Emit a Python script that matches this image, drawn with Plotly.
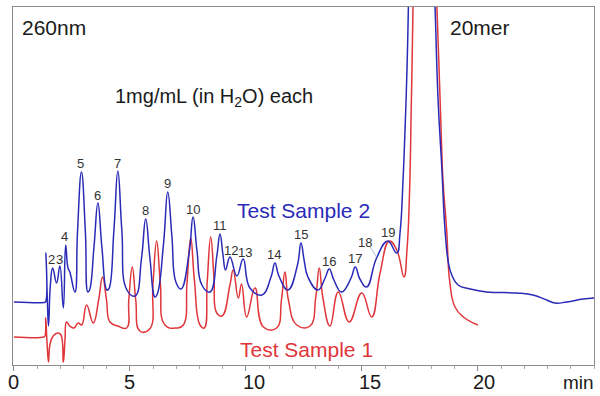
import plotly.graph_objects as go

# ---- data (time in min, signal in arbitrary mAU) ----
s2_time = [0.00, 1.29, 1.36, 1.38, 1.44, 1.49, 1.57, 1.67, 1.84, 1.98, 2.13, 2.23, 2.33, 2.41, 2.63,
           2.74, 2.91, 3.08, 3.19, 3.26,
           3.45, 3.62, 3.79, 4.01, 4.09,
           4.31, 4.48, 4.65, 4.87, 5.22,
           5.50, 5.68, 5.86, 6.08, 6.18,
           6.45, 6.63, 6.81, 6.98, 7.20,
           7.55, 7.72, 7.89, 8.10, 8.45,
           8.75, 8.88, 9.01, 9.12,
           9.31, 9.61,
           9.88, 10.17, 10.69,
           11.08, 11.25, 11.42, 11.81,
           12.22, 12.37, 12.52, 12.67, 13.10,
           13.41, 13.59, 13.79, 14.12,
           14.53, 14.71, 14.91, 15.20,
           15.63,
           16.11, 16.50,
           16.64, 16.77, 16.85, 16.94, 17.00, 17.07, 17.24, 17.54, 17.84, 18.02, 18.15,
           18.28, 18.44, 18.58, 18.72, 18.87, 19.14, 19.66, 20.37, 21.67, 22.37, 22.96,
           23.32, 23.82, 24.53, 25.00]
s2_signal = [63, 62.5, 63, 112, 65, 39, 80, 97, 82, 99, 57, 120, 97, 93, 73,
             133, 193, 133, 73, 75,
             118, 162, 118, 75, 76,
             135, 194, 135, 75, 69,
             107, 146, 107, 68, 71,
             122, 173, 128, 83, 76,
             112, 148, 114, 80, 73,
             110, 131, 110, 95,
             108, 89,
             106, 77, 70,
             88, 102, 89, 75,
             100, 122, 103, 88, 75,
             87, 96, 85, 73,
             87, 98, 86, 78,
             107,
             124, 112,
             132, 185, 232, 295, 358, 445, 765, 1265, 765, 445, 358,
             265, 198, 135, 103, 90, 80, 76, 73, 72, 70, 65,
             62, 63, 66, 67]

s1_time = [0.00, 1.29, 1.34, 1.37, 1.42, 1.49, 1.55, 1.69, 1.90, 2.03, 2.13, 2.20, 2.27, 2.41, 2.59,
           2.77, 2.92, 3.13, 3.42,
           3.65, 3.82, 3.99, 4.14, 4.48, 4.86,
           4.95, 5.10, 5.25, 5.43, 5.85,
           5.99, 6.15, 6.31, 6.51, 7.01, 7.30,
           7.46, 7.62, 7.78, 8.02, 8.20,
           8.33, 8.48, 8.62, 8.74, 8.97,
           9.31, 9.45, 9.67, 9.81, 10.03, 10.39, 10.75, 11.32,
           11.53, 11.68, 11.83, 12.19, 12.76,
           13.01, 13.16, 13.31, 13.62,
           13.98, 14.45, 14.99, 15.42, 15.78, 16.18, 16.50, 16.81,
           16.94, 17.04, 17.13, 17.20, 17.33, 17.59, 17.84, 18.06, 18.23,
           18.41, 18.49, 18.65, 18.79, 19.01, 19.37, 20.00]
s1_signal = [28, 28, 29, 47, 25, 3, 20, 29, 32, 30, 3, 25, 43, 39, 37,
             42, 40, 60, 42,
             65, 88, 65, 43, 39, 37,
             65, 98, 65, 34, 36,
             80, 124, 82, 40, 37, 40,
             82, 127, 84, 40, 37,
             83, 128, 88, 52, 49,
             80, 95, 67, 81, 48, 77, 38, 37,
             65, 93, 65, 40, 39,
             68, 97, 68, 39,
             73, 43, 72, 48, 92, 124, 115, 88,
             115, 165, 265, 358, 565, 1265, 765, 445, 358,
             235, 185, 135, 82, 58, 48, 40]

peak_labels = ["2", "3", "4", "5", "6", "7", "8", "9", "10", "11", "12", "13", "14",
               "15", "16", "17", "18", "19"]
label_time = [1.62, 1.96, 2.20, 2.89, 3.62, 4.48, 5.68, 6.63, 7.72, 8.88, 9.34, 9.96, 11.21,
              12.37, 13.59, 14.70, 15.13, 16.11]
label_signal = [106, 106, 129, 202, 170, 202, 155, 182, 156, 140, 115, 113, 111,
                131, 104, 107, 123, 133]

tick_vals = [0, 5, 10, 15, 20]
tick_text = ["0", "5", "10", "15", "20"]

BLUE = "#2a2ab8"
RED = "#e0363a"
FONT = "Liberation Sans, Arial, sans-serif"

fig = go.Figure()
fig.add_trace(go.Scatter(x=s1_time, y=s1_signal, mode="lines",
                         line=dict(color=RED, width=1.5, shape="spline", smoothing=1.3),
                         name="Test Sample 1", hoverinfo="skip"))
fig.add_trace(go.Scatter(x=s2_time, y=s2_signal, mode="lines",
                         line=dict(color=BLUE, width=1.5, shape="spline", smoothing=1.3),
                         name="Test Sample 2", hoverinfo="skip"))

ann = []
for lab, t, v in zip(peak_labels, label_time, label_signal):
    ann.append(dict(x=t, y=v, xref="x", yref="y", text=lab, showarrow=False,
                    font=dict(size=13, color="#333333", family=FONT)))

# tick labels (drawn as annotations so they sit like the reference)
tick_shift = [0, 0, 8, 8, 6]
for tv, tt, sh in zip(tick_vals, tick_text, tick_shift):
    ann.append(dict(x=tv, y=-0.047, xref="x", yref="paper", text=tt, showarrow=False,
                    xanchor="center", yanchor="middle", xshift=sh,
                    font=dict(size=20, color="#1a1a1a", family=FONT)))

def ptxt(text, px, py, color="#1a1a1a", size=20, anchor="left"):
    return dict(x=(px - 13) / 581, y=(365 - py) / 358, xref="paper", yref="paper",
                text=text, showarrow=False, xanchor=anchor, yanchor="middle",
                font=dict(size=size, color=color, family=FONT))

ann += [
    ptxt("260nm", 20, 28, size=21),
    ptxt("1mg/mL (in H<sub>2</sub>O) each", 113, 97),
    ptxt("20mer", 448, 28, size=21),
    ptxt("Test Sample 2", 235, 211, color=BLUE, size=21),
    ptxt("Test Sample 1", 238, 349, color=RED, size=21),
    ptxt("min", 596, 382, size=19, anchor="right"),
]

fig.update_layout(
    width=600, height=396,
    margin=dict(l=13, r=6, t=7, b=31),
    paper_bgcolor="white", plot_bgcolor="white",
    showlegend=False,
    annotations=ann,
    shapes=[dict(type="line", xref="x", yref="y", x0=15.33, y0=119, x1=15.62, y1=108,
                 line=dict(color="#9fb0c8", width=0.8))],
    font=dict(family=FONT, color="#1a1a1a"),
)
fig.update_xaxes(range=[-0.04, 25.0], showgrid=False, zeroline=False,
                 showline=True, linecolor="#8c8c8c", linewidth=1.2, mirror=True,
                 ticks="outside", ticklen=5, tickcolor="#8c8c8c",
                 tickvals=tick_vals, showticklabels=False,
                 minor=dict(dtick=1, ticks="outside", ticklen=3, tickcolor="#aaaaaa"))
fig.update_yaxes(range=[0, 358], showgrid=False, zeroline=False,
                 showline=True, linecolor="#8c8c8c", linewidth=1.2, mirror=True,
                 showticklabels=False, ticks="")

fig.write_html("out.html", config={"displayModeBar": False},
               post_script="document.body.style.margin='0';document.body.style.overflow='hidden';")
